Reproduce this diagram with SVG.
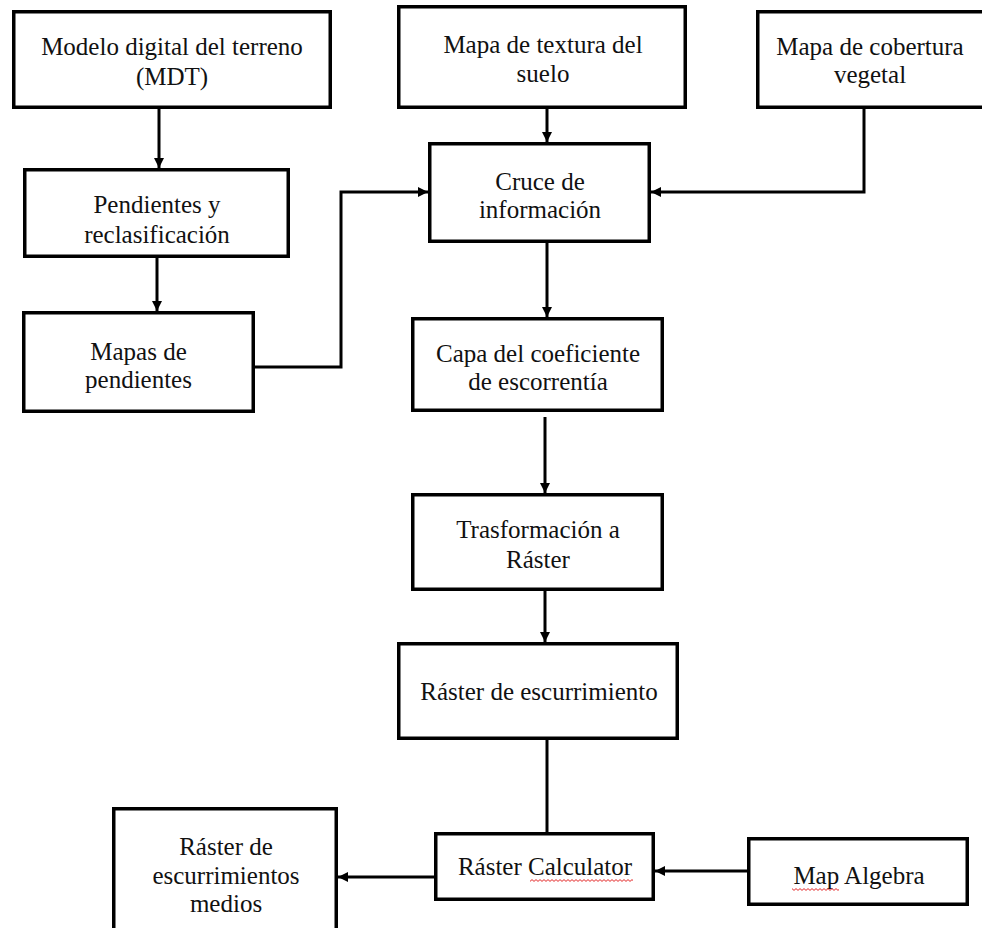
<svg xmlns="http://www.w3.org/2000/svg" width="982" height="928" viewBox="0 0 982 928">
  <style>
    .box { fill: #ffffff; stroke: #000000; stroke-width: 3.5; }
    .lbl { font-family: "Liberation Serif", "Times New Roman", serif; font-size: 25px; fill: #111111; text-anchor: middle; }
    .conn { fill: none; stroke: #000000; stroke-width: 3; }
    .arr { marker-end: url(#ah); }
  </style>
  <defs>
    <marker id="ah" markerUnits="userSpaceOnUse" markerWidth="11" markerHeight="11" refX="10" refY="5.5" orient="auto">
      <path d="M0,0.5 L10,5.5 L0,10.5 z" fill="#000000"/>
    </marker>
    <pattern id="wavy" width="4" height="3" patternUnits="userSpaceOnUse">
      <path d="M0,0.6 L2,2.4 L4,0.6" fill="none" stroke="#e01010" stroke-width="0.9"/>
    </pattern>
  </defs>
  <rect width="982" height="928" fill="#ffffff"/>

  <g id="connectors">
    <line class="conn arr" x1="159" y1="109" x2="159" y2="168"/>
    <line class="conn arr" x1="157" y1="258" x2="157" y2="311"/>
    <polyline class="conn arr" points="255,367 341,367 341,192 428,192"/>
    <line class="conn arr" x1="547" y1="109" x2="547" y2="142"/>
    <polyline class="conn arr" points="864,109 864,192 651,192"/>
    <line class="conn arr" x1="547" y1="243" x2="547" y2="317"/>
    <line class="conn arr" x1="545" y1="417" x2="545" y2="493"/>
    <line class="conn arr" x1="545" y1="591" x2="545" y2="642"/>
    <line class="conn" x1="547" y1="740" x2="547" y2="832"/>
    <line class="conn arr" x1="747" y1="871" x2="655" y2="871"/>
    <line class="conn arr" x1="434" y1="877" x2="338" y2="877"/>
  </g>

  <g id="mdt">
    <rect class="box" x="13.75" y="11.75" width="316.5" height="95.5"/>
    <text class="lbl" x="172" y="55">Modelo digital del terreno</text>
    <text class="lbl" x="172" y="85">(MDT)</text>
  </g>
  <g id="pendientes">
    <rect class="box" x="24.75" y="169.75" width="263.5" height="86.5"/>
    <text class="lbl" x="157" y="213">Pendientes y</text>
    <text class="lbl" x="157" y="243">reclasificación</text>
  </g>
  <g id="mapas-pendientes">
    <rect class="box" x="23.75" y="312.75" width="229.5" height="98.5"/>
    <text class="lbl" x="138.5" y="360">Mapas de</text>
    <text class="lbl" x="138.5" y="388">pendientes</text>
  </g>
  <g id="textura">
    <rect class="box" x="398.75" y="6.75" width="286.5" height="100.5"/>
    <text class="lbl" x="543" y="53">Mapa de textura del</text>
    <text class="lbl" x="543" y="82">suelo</text>
  </g>
  <g id="cobertura">
    <rect class="box" x="757.75" y="11.75" width="240" height="95.5"/>
    <text class="lbl" x="870" y="55">Mapa de cobertura</text>
    <text class="lbl" x="870" y="83">vegetal</text>
  </g>
  <g id="cruce">
    <rect class="box" x="429.75" y="143.75" width="219.5" height="97.5"/>
    <text class="lbl" x="540" y="190">Cruce de</text>
    <text class="lbl" x="540" y="218">información</text>
  </g>
  <g id="capa">
    <rect class="box" x="412.75" y="318.75" width="249.5" height="91.5"/>
    <text class="lbl" x="538" y="362">Capa del coeficiente</text>
    <text class="lbl" x="538" y="390">de escorrentía</text>
  </g>
  <g id="trasformacion">
    <rect class="box" x="412.75" y="494.75" width="249.5" height="94.5"/>
    <text class="lbl" x="538" y="538">Trasformación a</text>
    <text class="lbl" x="538" y="568">Ráster</text>
  </g>
  <g id="raster-escurrimiento">
    <rect class="box" x="398.75" y="643.75" width="278.5" height="94.5"/>
    <text class="lbl" x="539" y="700">Ráster de escurrimiento</text>
  </g>
  <g id="raster-calculator">
    <rect class="box" x="435.75" y="833.75" width="217.5" height="65.5"/>
    <text class="lbl" x="545" y="875">Ráster Calculator</text>
    <rect x="530" y="879" width="103" height="3" fill="url(#wavy)"/>
  </g>
  <g id="map-algebra">
    <rect class="box" x="748.75" y="838.75" width="218.5" height="65.5"/>
    <text class="lbl" x="859" y="884">Map Algebra</text>
    <rect x="792" y="888" width="47" height="3" fill="url(#wavy)"/>
  </g>
  <g id="raster-medios">
    <rect class="box" x="113.75" y="808.75" width="222.5" height="140"/>
    <text class="lbl" x="226" y="855">Ráster de</text>
    <text class="lbl" x="226" y="884">escurrimientos</text>
    <text class="lbl" x="226" y="912">medios</text>
  </g>
</svg>
